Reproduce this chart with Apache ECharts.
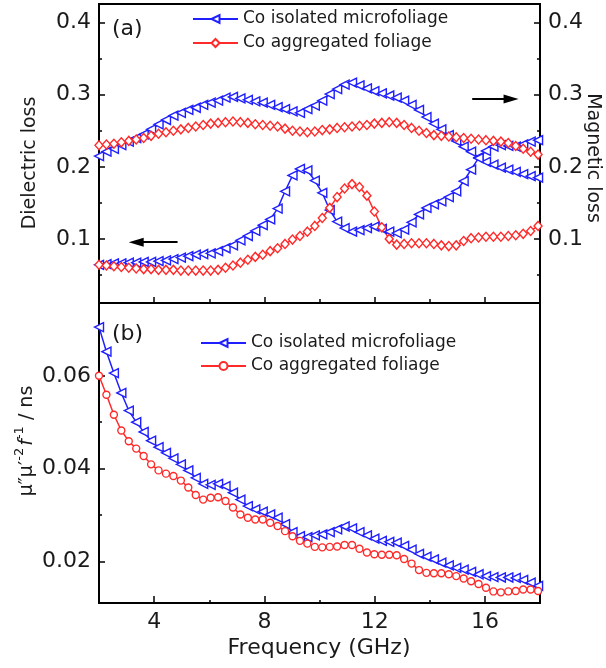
<!DOCTYPE html>
<html>
<head>
<meta charset="utf-8">
<script src="https://cdn.jsdelivr.net/npm/echarts@6/dist/echarts.min.js"></script>
<style>
  html, body { margin: 0; padding: 0; background: #fff; }
  #chart { width: 606px; height: 668px; }
</style>
</head>
<body>
<div id="chart"></div>
<script>
// frequency grid (GHz)
var freqs = [2.00, 2.27, 2.54, 2.81, 3.08, 3.35, 3.62, 3.89, 4.16, 4.43, 4.70, 4.97, 5.24, 5.51, 5.78,
  6.05, 6.32, 6.59, 6.86, 7.13, 7.40, 7.67, 7.94, 8.21, 8.48, 8.75, 9.02, 9.29, 9.56, 9.83,
  10.10, 10.37, 10.64, 10.91, 11.18, 11.45, 11.72, 11.99, 12.26, 12.53, 12.80, 13.07, 13.34, 13.61, 13.88,
  14.15, 14.42, 14.69, 14.96, 15.23, 15.50, 15.77, 16.04, 16.31, 16.58, 16.85, 17.12, 17.39, 17.66, 17.93];

// (a) magnetic loss (right axis)
var isoMagnetic = [0.215, 0.221, 0.225, 0.230, 0.235, 0.240, 0.245, 0.252, 0.259, 0.265, 0.271, 0.275, 0.279, 0.282, 0.286,
  0.289, 0.292, 0.296, 0.297, 0.295, 0.293, 0.291, 0.289, 0.286, 0.283, 0.280, 0.277, 0.275, 0.280, 0.285,
  0.292, 0.301, 0.308, 0.314, 0.317, 0.313, 0.309, 0.305, 0.302, 0.299, 0.296, 0.292, 0.286, 0.279, 0.269,
  0.260, 0.252, 0.244, 0.236, 0.228, 0.221, 0.213, 0.207, 0.203, 0.199, 0.196, 0.193, 0.190, 0.187, 0.185];
var aggMagnetic = [0.230, 0.231, 0.232, 0.234, 0.236, 0.238, 0.240, 0.243, 0.246, 0.248, 0.250, 0.252, 0.254, 0.256, 0.258,
  0.260, 0.261, 0.262, 0.263, 0.262, 0.261, 0.259, 0.258, 0.257, 0.256, 0.253, 0.250, 0.249, 0.248, 0.249,
  0.251, 0.252, 0.254, 0.255, 0.256, 0.257, 0.258, 0.260, 0.261, 0.262, 0.261, 0.258, 0.254, 0.250, 0.247,
  0.244, 0.243, 0.242, 0.241, 0.240, 0.239, 0.238, 0.237, 0.236, 0.235, 0.233, 0.229, 0.225, 0.221, 0.217];

// (a) dielectric loss (left axis)
var isoDielectric = [0.064, 0.065, 0.066, 0.066, 0.067, 0.067, 0.068, 0.068, 0.069, 0.070, 0.072, 0.074, 0.076, 0.078, 0.079,
  0.080, 0.083, 0.087, 0.091, 0.098, 0.104, 0.111, 0.119, 0.127, 0.142, 0.166, 0.188, 0.197, 0.195, 0.181,
  0.164, 0.140, 0.124, 0.115, 0.110, 0.112, 0.115, 0.117, 0.114, 0.110, 0.108, 0.113, 0.123, 0.134, 0.143,
  0.148, 0.152, 0.158, 0.166, 0.180, 0.196, 0.212, 0.222, 0.228, 0.230, 0.229, 0.228, 0.231, 0.235, 0.237];
var aggDielectric = [0.064, 0.063, 0.062, 0.061, 0.060, 0.059, 0.058, 0.058, 0.057, 0.057, 0.057, 0.056, 0.056, 0.056, 0.056,
  0.056, 0.057, 0.060, 0.063, 0.067, 0.071, 0.075, 0.078, 0.083, 0.087, 0.093, 0.099, 0.104, 0.110, 0.118,
  0.129, 0.143, 0.158, 0.170, 0.176, 0.172, 0.160, 0.138, 0.116, 0.100, 0.092, 0.093, 0.094, 0.094, 0.094,
  0.093, 0.091, 0.090, 0.091, 0.097, 0.101, 0.102, 0.103, 0.103, 0.103, 0.104, 0.105, 0.107, 0.111, 0.118];

// (b) mu'' mu'^-2 f^-1 (ns)
var isoEddy = [0.0705, 0.0652, 0.0606, 0.0563, 0.0525, 0.0500, 0.0479, 0.0460, 0.0446, 0.0434, 0.0422, 0.0409, 0.0396, 0.0380, 0.0367,
  0.0365, 0.0367, 0.0362, 0.0348, 0.0333, 0.0319, 0.0312, 0.0307, 0.0301, 0.0294, 0.0280, 0.0263, 0.0254, 0.0252, 0.0256,
  0.0258, 0.0263, 0.0269, 0.0275, 0.0271, 0.0263, 0.0256, 0.0249, 0.0244, 0.0242, 0.0240, 0.0233, 0.0225, 0.0216, 0.0210,
  0.0204, 0.0197, 0.0191, 0.0186, 0.0182, 0.0177, 0.0172, 0.0168, 0.0166, 0.0165, 0.0165, 0.0164, 0.0160, 0.0154, 0.0147];
var aggEddy = [0.0600, 0.0559, 0.0516, 0.0482, 0.0459, 0.0443, 0.0427, 0.0409, 0.0396, 0.0389, 0.0384, 0.0374, 0.0359, 0.0343, 0.0333,
  0.0337, 0.0338, 0.0330, 0.0316, 0.0301, 0.0294, 0.0290, 0.0290, 0.0283, 0.0276, 0.0265, 0.0254, 0.0244, 0.0238, 0.0231,
  0.0230, 0.0231, 0.0232, 0.0235, 0.0235, 0.0227, 0.0219, 0.0215, 0.0214, 0.0214, 0.0213, 0.0205, 0.0195, 0.0181, 0.0175,
  0.0174, 0.0174, 0.0172, 0.0168, 0.0163, 0.0157, 0.0151, 0.0143, 0.0135, 0.0133, 0.0135, 0.0136, 0.0139, 0.0139, 0.0136];

// ticks
var xMajor = [4, 8, 12, 16];
var xMinor = [6, 10, 14];
var aMajor = [0.1, 0.2, 0.3, 0.4];
var aMinor = [0.05, 0.15, 0.25, 0.35];
var bMajor = [0.02, 0.04, 0.06];
var bMinor = [0.03, 0.05, 0.07];

var ISO = 'Co isolated microfoliage';
var AGG = 'Co aggregated foliage';
// panel (b) uses its own legend entries (circle instead of diamond)
var ISO_B = ISO + ' ';
var AGG_B = AGG + ' ';

var FONT = 'DejaVu Sans';
var TXT = '#1a1a1a';
var BLUE = '#1f1fff';
var RED = '#ff2a2a';

function pairs(ys) {
  return freqs.map(function (f, i) { return [f, ys[i]]; });
}

function tickAxis(gridIndex, pos, min, max, values, len, labels, digits) {
  return {
    type: 'value', gridIndex: gridIndex, position: pos, min: min, max: max,
    axisLine: { show: false },
    splitLine: { show: false },
    axisTick: { show: true, inside: true, length: len, customValues: values, lineStyle: { color: '#000', width: 1.5 } },
    axisLabel: {
      show: labels, customValues: values, margin: 8,
      fontFamily: FONT, fontSize: 22, color: TXT,
      formatter: function (v) { return digits == null ? String(v) : v.toFixed(digits); }
    }
  };
}

function lineSeries(name, color, symbol, rotate, size, xi, yi, ys) {
  return {
    name: name, type: 'line', xAxisIndex: xi, yAxisIndex: yi,
    data: pairs(ys),
    symbol: symbol, symbolRotate: rotate, symbolSize: size, showAllSymbol: true,
    lineStyle: { color: color, width: 1.5 },
    itemStyle: { color: '#fff', borderColor: color, borderWidth: 1.4 },
    emphasis: { disabled: true },
    animation: false
  };
}

var chart = echarts.init(document.getElementById('chart'));

var arrowStyle = { color: '#000', width: 2, type: 'solid' };

var series = [
  lineSeries(ISO, BLUE, 'triangle', 90, 9, 0, 2, isoMagnetic),
  lineSeries(ISO, BLUE, 'triangle', 90, 9, 0, 0, isoDielectric),
  lineSeries(AGG, RED, 'diamond', 0, [8, 9], 0, 2, aggMagnetic),
  lineSeries(AGG, RED, 'diamond', 0, [8, 9], 0, 0, aggDielectric),
  lineSeries(ISO_B, BLUE, 'triangle', 90, 9, 2, 4, isoEddy),
  lineSeries(AGG_B, RED, 'circle', 0, 7, 2, 4, aggEddy)
];

// arrows showing which axis each pair of curves belongs to
series[0].markLine = {
  silent: true, animation: false, label: { show: false },
  symbol: ['none', 'triangle'], symbolSize: [9, 15],
  lineStyle: arrowStyle,
  data: [[{ coord: [15.54, 0.294] }, { coord: [16.95, 0.294] }]]
};
series[1].markLine = {
  silent: true, animation: false, label: { show: false },
  symbol: ['none', 'triangle'], symbolSize: [9, 15],
  lineStyle: arrowStyle,
  data: [[{ coord: [4.85, 0.0954] }, { coord: [3.35, 0.0954] }]]
};

var legendText = { fontFamily: FONT, fontSize: 17, color: TXT, lineHeight: 20 };

var option = {
  backgroundColor: '#fff',
  animation: false,
  grid: [
    { left: 99, top: 4, width: 441, height: 299, show: true, borderColor: '#000', borderWidth: 2, backgroundColor: 'transparent' },
    { left: 99, top: 303, width: 441, height: 300, show: true, borderColor: '#000', borderWidth: 2, backgroundColor: 'transparent' }
  ],
  xAxis: [
    tickAxis(0, 'bottom', 2, 18, xMajor, 6, false, null),
    tickAxis(0, 'bottom', 2, 18, xMinor, 4, false, null),
    tickAxis(1, 'bottom', 2, 18, xMajor, 7, true, null),
    tickAxis(1, 'bottom', 2, 18, xMinor, 3, false, null)
  ],
  yAxis: [
    tickAxis(0, 'left', 0.011, 0.426, aMajor, 6, true, 1),
    tickAxis(0, 'left', 0.011, 0.426, aMinor, 3, false, 2),
    tickAxis(0, 'right', 0.011, 0.426, aMajor, 6, true, 1),
    tickAxis(0, 'right', 0.011, 0.426, aMinor, 3, false, 2),
    tickAxis(1, 'left', 0.011, 0.0757, bMajor, 6, true, 2),
    tickAxis(1, 'left', 0.011, 0.0757, bMinor, 3, false, 2)
  ],
  legend: [
    {
      data: [ISO, AGG], orient: 'vertical', left: 192, top: 9, padding: 0,
      itemWidth: 45, itemHeight: 10, itemGap: 4, selectedMode: false,
      textStyle: legendText
    },
    {
      data: [ISO_B, AGG_B], orient: 'vertical', left: 200, top: 333, padding: 0,
      itemWidth: 45, itemHeight: 10, itemGap: 3, selectedMode: false,
      textStyle: legendText
    }
  ],
  graphic: [
    { type: 'text', left: 112, top: 18, style: { text: '(a)', font: '22px "DejaVu Sans"', fill: TXT } },
    { type: 'text', left: 112, top: 323, style: { text: '(b)', font: '22px "DejaVu Sans"', fill: TXT } },
    {
      type: 'text', x: 30, y: 163, rotation: Math.PI / 2,
      style: { text: 'Dielectric loss', font: '19px "DejaVu Sans"', fill: TXT,
        textAlign: 'center', textVerticalAlign: 'middle', align: 'center', verticalAlign: 'middle' }
    },
    {
      type: 'text', x: 593, y: 158, rotation: -Math.PI / 2,
      style: { text: 'Magnetic loss', font: '19px "DejaVu Sans"', fill: TXT,
        textAlign: 'center', textVerticalAlign: 'middle', align: 'center', verticalAlign: 'middle' }
    },
    {
      type: 'text', x: 25, y: 441, rotation: Math.PI / 2,
      style: {
        text: '{m|μ″μ′}{s|-2}{i|f}{s|-1}{m| / ns}',
        fill: TXT, textAlign: 'center', textVerticalAlign: 'middle', align: 'center', verticalAlign: 'middle',
        rich: {
          m: { fontFamily: FONT, fontSize: 19, lineHeight: 24, verticalAlign: 'bottom', fill: TXT },
          i: { fontFamily: FONT, fontSize: 19, fontStyle: 'italic', lineHeight: 24, verticalAlign: 'bottom', fill: TXT, padding: [0, 0, 0, 2] },
          s: { fontFamily: FONT, fontSize: 13, lineHeight: 24, verticalAlign: 'top', fill: TXT }
        }
      }
    },
    {
      type: 'text', x: 319, y: 648,
      style: { text: 'Frequency (GHz)', font: '22px "DejaVu Sans"', fill: TXT,
        textAlign: 'center', textVerticalAlign: 'middle', align: 'center', verticalAlign: 'middle' }
    }
  ],
  series: series
};

chart.setOption(option);
</script>
</body>
</html>
